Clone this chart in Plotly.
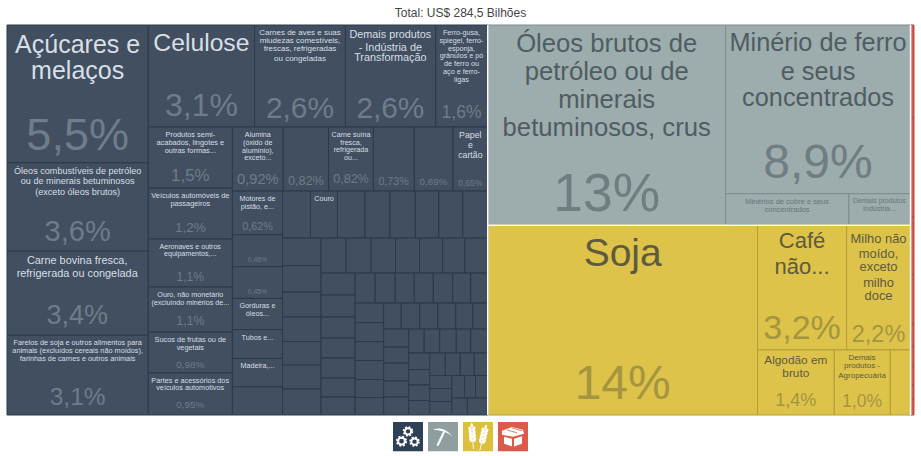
import base64
import plotly.graph_objects as go

# Indústria - coluna da esquerda
esq_nomes = ['Açúcares e<br>melaços',
             'Óleos combustíveis de petróleo<br>ou de minerais betuminosos<br>(exceto óleos brutos)',
             'Carne bovina fresca,<br>refrigerada ou congelada',
             'Farelos de soja e outros alimentos para<br>animais (excluídos cereais não moídos),<br>farinhas de carnes e outros animais']
esq_valores = [5.50, 3.52, 3.36, 3.18]
esq_pct = ['5,5%', '3,6%', '3,4%', '3,1%']

# Indústria - linha de cima
topo_nomes = ['Celulose',
              'Carnes de aves e suas<br>miudezas comestíveis,<br>frescas, refrigeradas<br>ou congeladas',
              'Demais produtos<br>- Indústria de<br>Transformação',
              'Ferro-gusa,<br>spiegel, ferro-<br>esponja,<br>grânulos e pó<br>de ferro ou<br>aço e ferro-<br>ligas']
topo_valores = [3.06, 2.62, 2.60, 1.50]
topo_pct = ['3,1%', '2,6%', '2,6%', '1,6%']

# Indústria - segunda coluna
col2_nomes = ['Produtos semi-<br>acabados, lingotes e<br>outras formas...',
              'Veículos automóveis de<br>passageiros',
              'Aeronaves e outros<br>equipamentos,...',
              'Ouro, não monetário<br>(excluindo minérios de...',
              'Sucos de frutas ou de<br>vegetais',
              'Partes e acessórios dos<br>veículos automotivos']
col2_valores = [1.45, 1.21, 1.14, 1.07, 0.97, 1.00]
col2_pct = ['1,5%', '1,2%', '1,1%', '1,1%', '0,98%', '0,95%']

# linhas e colunas menores, da maior para a menor
linha1_nomes = ['Alumina<br>(óxido de<br>alumínio),<br>exceto...', '', 'Carne suína<br>fresca,<br>refrigerada<br>ou...', '', '', 'Papel<br>e<br>cartão']
linha1_valores = [0.92, 0.82, 0.81, 0.74, 0.70, 0.63]
linha1_pct = ['0,92%', '0,82%', '0,82%', '0,73%', '0,69%', '0,65%']

coluna1_nomes = ['Motores de<br>pistão, e...', '', '', 'Gorduras e<br>óleos...', 'Tubos e...', 'Madeira,...', '']
coluna1_valores = [0.62, 0.45, 0.45, 0.44, 0.41, 0.40, 0.40]
coluna1_pct = ['0,62%', '0,46%', '0,45%', '', '', '', '']

linha2_nomes = ['', 'Couro', '', '', '', '', '', '']
linha2_valores = [0.372, 0.359, 0.365, 0.332, 0.339, 0.312, 0.319, 0.332]
coluna2_valores = [0.299, 0.288, 0.272, 0.267, 0.256, 0.261, 0.283]
linha3_valores = [0.247, 0.247, 0.242, 0.237, 0.228, 0.218, 0.228]
coluna3_valores = [0.211, 0.211, 0.202, 0.192, 0.192, 0.183, 0.173]
linha4_valores = [0.170, 0.170, 0.161, 0.161, 0.165, 0.153, 0.144]
coluna4_valores = [0.157, 0.153, 0.153, 0.153, 0.145, 0.141]
linha5_valores = [0.129, 0.136, 0.132, 0.132, 0.125, 0.110]
coluna5_valores = [0.127, 0.113, 0.127, 0.113, 0.127]
linha6_valores = [0.105, 0.105, 0.112, 0.098, 0.115]
coluna6_valores = [0.098, 0.092, 0.092, 0.086]
linha7_valores = [0.099, 0.095, 0.089, 0.086]
coluna7_valores = [0.081, 0.081, 0.084]
fim_cima_valores = [0.081, 0.070, 0.078]
fim_baixo_valores = [0.075, 0.098]

# Indústria extrativa
oleos_nome = 'Óleos brutos de<br>petróleo ou de<br>minerais<br>betuminosos, crus'
oleos_valor = 13.41
oleos_pct = '13%'
minerio_nome = 'Minério de ferro<br>e seus<br>concentrados'
minerio_valor = 8.81
minerio_pct = '8,9%'
extr_nomes = ['Minérios de cobre e seus<br>concentrados', 'Demais produtos<br>Indústria...']
extr_valores = [1.08, 0.54]

# Agropecuária
soja_nome = 'Soja'
soja_valor = 14.49
soja_pct = '14%'
agro_cima_nomes = ['Café<br>não...', 'Milho não<br>moído,<br>exceto<br>milho<br>doce']
agro_cima_valores = [3.15, 2.26]
agro_cima_pct = ['3,2%', '2,2%']
agro_baixo_nomes = ['Algodão em<br>bruto', 'Demais<br>produtos -<br>Agropecuária', '']
agro_baixo_valores = [1.41, 1.03, 0.37]
agro_baixo_pct = ['1,4%', '1,0%', '']

# Outros produtos (faixa vermelha)
outros_valores = [0.092, 0.098, 0.057, 0.049, 0.022, 0.020, 0.018, 0.015, 0.015]

titulo = 'Total: US$ 284,5 Bilhões'

# tamanho do rótulo, entrelinha, tamanho do percentual, descida até o percentual,
# e (opcional) quantos px a mais abaixar o bloco todo
estilos = {
    esq_nomes[0]: (25, 27, 45, 95, 1.5), esq_nomes[1]: (9.1, 10.3, 29, 68),
    esq_nomes[2]: (10.9, 12, 27, 59, 1), esq_nomes[3]: (7.3, 7.8, 24.5, 59),
    topo_nomes[0]: (24.7, 27, 32, 65, 1), topo_nomes[1]: (8, 8.3, 30, 83),
    topo_nomes[2]: (10.9, 12, 30, 80), topo_nomes[3]: (7.2, 7.7, 17.5, 84),
    col2_nomes[0]: (7.4, 7.5, 17, 44), col2_nomes[1]: (7.4, 7.4, 13.5, 35),
    col2_nomes[2]: (7.4, 7.6, 12.5, 33), col2_nomes[3]: (7.3, 7.4, 12.5, 29),
    col2_nomes[4]: (7.4, 7.4, 10, 25), col2_nomes[5]: (7.4, 7.6, 10, 26),
    linha1_nomes[0]: (7.2, 7.4, 14.7, 47), linha1_nomes[2]: (7.2, 7.4, 12.7, 48),
    linha1_nomes[5]: (9, 10.5, 8.8, 49),
    coluna1_nomes[0]: (7.2, 7.4, 10.8, 29), coluna1_nomes[3]: (7.2, 7.6, 0, 0),
    coluna1_nomes[4]: (7.2, 7.6, 0, 0), coluna1_nomes[5]: (7.2, 7.6, 0, 0),
    linha2_nomes[1]: (7.2, 7.6, 0, 0),
    '0,82%': (7, 0, 12.7, 49.7), '0,73%': (7, 0, 10.7, 49.7), '0,69%': (7, 0, 9.8, 49.7),
    '0,46%': (7, 0, 6.8, 18.7), '0,45%': (7, 0, 6.8, 17.7),
    oleos_nome: (26, 29, 54, 160), minerio_nome: (25.3, 27.5, 48, 127, 1),
    extr_nomes[0]: (7.5, 7.4, 0, 0), extr_nomes[1]: (7, 7.4, 0, 0),
    soja_nome: (39, 40, 48, 133, 2),
    agro_cima_nomes[0]: (22, 25, 34, 91), agro_cima_nomes[1]: (12.9, 14.5, 23.5, 98, 2),
    agro_baixo_nomes[0]: (11.8, 12.7, 18, 42), agro_baixo_nomes[1]: (8, 8.5, 17.5, 46),
}

cores = {
    'ind': dict(fill='#414F60', line='#2B3A4B', label='#D8DFE6', pct='#6F7C89'),
    'ext': dict(fill='#9DACAD', line='#7F8C8E', label='#4F5D62', pct='#707D81'),
    'agr': dict(fill='#DDC34A', line='#B29C3A', label='#5E5A3D', pct='#A5953F'),
    'out': dict(fill='#D2594E', line='#B04A41', label='#FFFFFF', pct='#FFFFFF'),
}

PASSO = 2.6  # 1.3em de uma fonte base de 2px


def monta_texto(nome, pct, familia):
    if not nome and not pct:
        return ''
    tam, entre, tam_pct, desce, *extra = estilos[nome or pct]
    c = cores[familia]
    cor_label = c['label']
    if familia == 'ext' and tam < 8:
        cor_label = '#67767A'
    # uma linha em branco no topo abaixa o bloco, pois a caixa do texto comeca nela
    inicio = round((0.905 * tam - 1.8 + extra[0]) / PASSO) if extra else 0
    linhas = {0: '&nbsp;'} if extra else {}
    partes = nome.split('<br>') if nome else ['&nbsp;']
    for j, parte in enumerate(partes):
        linhas[inicio + round(j * entre / PASSO)] = f'<span style="font-size:{tam}px;fill:{cor_label}">{parte}</span>'
    if pct:
        linhas[inicio + round(desce / PASSO)] = f'<span style="font-size:{tam_pct}px;fill:{c["pct"]}">{pct}</span>'
    return '<br>'.join(linhas.get(i, '') for i in range(max(linhas) + 1))


ids, labels, parents, values, fills, bordas, larguras, textos = [], [], [], [], [], [], [], []


def no(pai, familia, valor=0, nome='', pct='', folha=True):
    novo = f'n{len(ids)}'
    ids.append(novo)
    labels.append(nome.replace('<br>', ' ') or novo)
    parents.append(pai)
    values.append(valor)
    fills.append(cores[familia]['fill'])
    bordas.append(cores[familia]['line'])
    larguras.append(1 if folha else 0)
    textos.append(monta_texto(nome, pct, familia) if folha else '')
    return novo


def grupo(pai, familia):
    return no(pai, familia, folha=False)


def folhas(pai, familia, vals, nomes=None, pcts=None):
    for i, v in enumerate(vals):
        no(pai, familia, v, nomes[i] if nomes else '', pcts[i] if pcts else '')


# slice-dice alterna a direção a cada nível, por isso a árvore é aninhada
raiz = no('', 'ind', folha=False)
fills[0] = '#FFFFFF'

ind = grupo(raiz, 'ind')
ind_in = grupo(ind, 'ind')
folhas(grupo(ind_in, 'ind'), 'ind', esq_valores, esq_nomes, esq_pct)
ind_dir = grupo(ind_in, 'ind')
folhas(grupo(ind_dir, 'ind'), 'ind', topo_valores, topo_nomes, topo_pct)
ind_baixo = grupo(ind_dir, 'ind')
folhas(grupo(ind_baixo, 'ind'), 'ind', col2_valores, col2_nomes, col2_pct)
resto = grupo(ind_baixo, 'ind')

pares = [
    (linha1_valores, linha1_nomes, linha1_pct, coluna1_valores, coluna1_nomes, coluna1_pct),
    (linha2_valores, linha2_nomes, None, coluna2_valores, None, None),
    (linha3_valores, None, None, coluna3_valores, None, None),
    (linha4_valores, None, None, coluna4_valores, None, None),
    (linha5_valores, None, None, coluna5_valores, None, None),
    (linha6_valores, None, None, coluna6_valores, None, None),
    (linha7_valores, None, None, coluna7_valores, None, None),
]
for lv, ln, lp, cv, cn, cp in pares:
    folhas(grupo(resto, 'ind'), 'ind', lv, ln, lp)
    abaixo = grupo(resto, 'ind')
    folhas(grupo(abaixo, 'ind'), 'ind', cv, cn, cp)
    resto = grupo(abaixo, 'ind')
folhas(grupo(resto, 'ind'), 'ind', fim_cima_valores)
folhas(grupo(resto, 'ind'), 'ind', fim_baixo_valores)

meio = grupo(raiz, 'ext')
ext = grupo(meio, 'ext')
no(ext, 'ext', oleos_valor, oleos_nome, oleos_pct)
ext_dir = grupo(ext, 'ext')
no(ext_dir, 'ext', minerio_valor, minerio_nome, minerio_pct)
folhas(grupo(ext_dir, 'ext'), 'ext', extr_valores, extr_nomes)

agr = grupo(meio, 'agr')
no(agr, 'agr', soja_valor, soja_nome, soja_pct)
agr_dir = grupo(agr, 'agr')
folhas(grupo(agr_dir, 'agr'), 'agr', agro_cima_valores, agro_cima_nomes, agro_cima_pct)
folhas(grupo(agr_dir, 'agr'), 'agr', agro_baixo_valores, agro_baixo_nomes, agro_baixo_pct)

folhas(grupo(raiz, 'out'), 'out', outros_valores)

ESQ, TOPO, LARG, ALT = 7, 25, 907, 390


def px(x):
    return (x - ESQ) / LARG


def py(y):
    return 1 - (y - TOPO) / ALT


def svg_uri(fundo, corpo):
    svg = (f'<svg xmlns="http://www.w3.org/2000/svg" viewBox="0 0 30 30">'
           f'<rect width="30" height="30" fill="{fundo}"/>{corpo}</svg>')
    return 'data:image/svg+xml;base64,' + base64.b64encode(svg.encode()).decode()


def engrenagem(x, y, r):
    return (f'<circle cx="{x}" cy="{y}" r="{r}" fill="none" stroke="#fff" stroke-width="{r * 0.6}"/>'
            f'<circle cx="{x}" cy="{y}" r="{r * 1.4}" fill="none" stroke="#fff" stroke-width="{r * 0.5}" '
            f'stroke-dasharray="{r * 0.6} {r * 0.5}"/>')


def espiga(x, y, ang):
    graos = '<ellipse cx="0" cy="-11" rx="1.3" ry="2.6" fill="#fff"/>'
    for k in range(4):
        g = -7.5 + 3.7 * k
        graos += (f'<ellipse rx="1.4" ry="2.6" fill="#fff" transform="translate(-1.9 {g}) rotate(-22)"/>'
                  f'<ellipse rx="1.4" ry="2.6" fill="#fff" transform="translate(1.9 {g}) rotate(22)"/>')
    return (f'<g transform="translate({x} {y}) rotate({ang})">{graos}'
            '<path d="M0 -8 V13" stroke="#fff" stroke-width="0.9"/></g>')


icones = [
    (393, svg_uri('#2E4055', engrenagem(15, 9.5, 3.2) + engrenagem(8.5, 19.5, 3.4) + engrenagem(21.5, 20, 3.2))),
    (428, svg_uri('#8F9F9F', '<path d="M5 8 Q15 3 25 15 Q16 8 5 8Z" fill="#fff"/>'
                             '<path d="M16.5 9 L9.5 24" stroke="#fff" stroke-width="2.2" fill="none"/>')),
    (463, svg_uri('#DCBF3B', espiga(9.5, 14.5, -4) + espiga(20, 16, 14))),
    (498, svg_uri('#DC5A4A', '<path d="M4 9 L14 5 L25 8 L26 12 L15 15 L4 13Z" fill="#fff"/>'
                             '<path d="M6 15 L14 17 V25 L6 22Z M16 17 L24 14.5 V22 L16 25Z" fill="#fff"/>'
                             '<path d="M9 8 L19 11 M14 6 L24 9" stroke="#DC5A4A" stroke-width="0.8"/>')),
]

fig = go.Figure(go.Treemap(
    ids=ids, labels=labels, parents=parents, values=values, text=textos,
    branchvalues='remainder', sort=False, textinfo='text',
    textposition='top center', hoverinfo='label',
    textfont=dict(family='Liberation Sans, Arial, sans-serif', size=2),
    tiling=dict(packing='slice-dice', pad=0),
    pathbar=dict(visible=False),
    marker=dict(colors=fills, pad=dict(t=0, l=0, r=0, b=0),
                line=dict(color=bordas, width=larguras), depthfade=False),
))

# vãos brancos entre os setores
vaos = [
    dict(x0=px(487.8), x1=px(487.8), y0=py(25), y1=py(415)),
    dict(x0=px(910.6), x1=px(910.6), y0=py(25), y1=py(415)),
    dict(x0=px(487.8), x1=px(910.6), y0=py(225.3), y1=py(225.3)),
]
fig.update_layout(
    width=921, height=456,
    margin=dict(l=ESQ, r=921 - ESQ - LARG, t=TOPO, b=456 - TOPO - ALT, pad=0),
    paper_bgcolor='#FFFFFF',
    font=dict(family='Liberation Sans, Arial, sans-serif'),
    title=dict(text=titulo, x=0.5, xanchor='center', y=0.973, yanchor='middle',
               font=dict(size=12, color='#444444')),
    shapes=[dict(type='line', xref='paper', yref='paper', line=dict(color='#FFFFFF', width=1.6), **v) for v in vaos],
    images=[dict(source=src, xref='paper', yref='paper', x=px(x), y=py(422), sizex=30 / LARG, sizey=29.5 / ALT,
                 xanchor='left', yanchor='top', sizing='stretch', layer='above') for x, src in icones],
)

# a página padrão tem margem de 8px no body
fig.write_html("out.html", config=dict(displayModeBar=False),
               post_script="document.body.style.margin='0';")
